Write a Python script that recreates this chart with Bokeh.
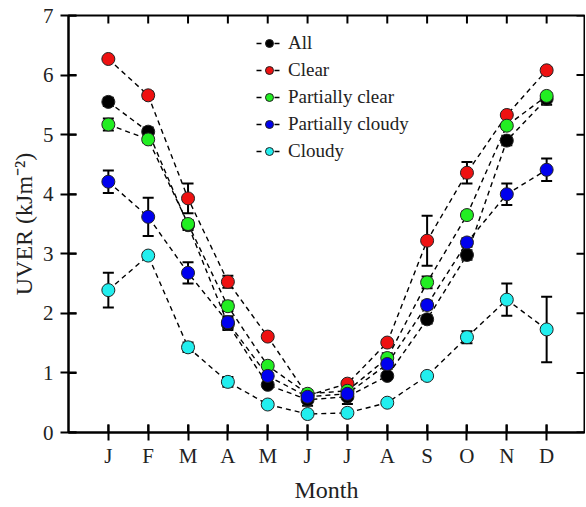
import math
from bokeh.plotting import figure
from bokeh.models import (Whisker, TeeHead, ColumnDataSource, FixedTicker,
                          Legend, LegendItem, Range1d)
from bokeh.embed import file_html
from bokeh.resources import INLINE

months = ["J", "F", "M", "A", "M", "J", "J", "A", "S", "O", "N", "D"]
month_idx = list(range(1, 13))
y_ticks = list(range(0, 8))

series_names = ["All", "Clear", "Partially clear", "Partially cloudy", "Cloudy"]
all_vals = [5.55, 5.05, 3.48, 1.82, 0.80, 0.55, 0.60, 0.95, 1.90, 2.98, 4.90, 5.60]
all_err = [0.07, 0.07, 0.08, 0.10, 0.05, 0.10, 0.12, 0.05, 0.07, 0.08, 0.08, 0.10]
clear_vals = [6.27, 5.66, 3.93, 2.53, 1.61, 0.62, 0.82, 1.51, 3.22, 4.36, 5.33, 6.08]
clear_err = [0.04, 0.06, 0.25, 0.10, 0.03, 0.05, 0.04, 0.04, 0.42, 0.18, 0.04, 0.05]
pclear_vals = [5.17, 4.92, 3.50, 2.12, 1.12, 0.65, 0.70, 1.25, 2.52, 3.65, 5.15, 5.65]
pclear_err = [0.10, 0.05, 0.06, 0.08, 0.06, 0.06, 0.06, 0.08, 0.10, 0.06, 0.05, 0.05]
pcloudy_vals = [4.21, 3.62, 2.68, 1.85, 0.95, 0.60, 0.65, 1.15, 2.14, 3.19, 4.00, 4.41]
pcloudy_err = [0.19, 0.32, 0.18, 0.10, 0.05, 0.06, 0.06, 0.08, 0.07, 0.07, 0.18, 0.19]
cloudy_vals = [2.39, 2.97, 1.43, 0.85, 0.47, 0.31, 0.33, 0.50, 0.95, 1.60, 2.23, 1.73]
cloudy_err = [0.29, 0.03, 0.08, 0.08, 0.04, 0.05, 0.05, 0.04, 0.05, 0.10, 0.27, 0.55]

colors = ["#000000", "#ee1111", "#22ee22", "#0000ee", "#22eeee"]
values = [all_vals, clear_vals, pclear_vals, pcloudy_vals, cloudy_vals]
errors = [all_err, clear_err, pclear_err, pcloudy_err, cloudy_err]

FONT = "Liberation Serif"
X_MIN, X_MAX, Y_MIN, Y_MAX = 0, 12.95, 0, 7

p = figure(width=585, height=505, x_range=Range1d(X_MIN, X_MAX), y_range=Range1d(Y_MIN, Y_MAX),
           output_backend="svg", toolbar_location=None,
           min_border_left=68, min_border_top=15, min_border_right=1, min_border_bottom=72)
p.grid.visible = False
p.outline_line_color = "black"
p.outline_line_width = 2

bottom = p.below[0]
left = p.left[0]
for ax in [bottom, left]:
    ax.axis_line_width = 2
    ax.axis_line_color = "black"
    ax.major_tick_line_width = 2
    ax.major_tick_line_color = "black"
    ax.major_tick_in = 8
    ax.major_tick_out = 8
    ax.minor_tick_line_color = None
    ax.major_label_text_font = FONT
    ax.major_label_text_font_size = "21px"
    ax.major_label_text_color = "#222222"
    ax.axis_label_text_font = FONT
    ax.axis_label_text_font_size = "24px"
    ax.axis_label_text_font_style = "normal"
    ax.axis_label_text_color = "#222222"

bottom.ticker = FixedTicker(ticks=month_idx)
bottom.major_label_overrides = {i: m for i, m in zip(month_idx, months)}
bottom.axis_label = "Month"
bottom.major_label_standoff = 3
bottom.axis_label_standoff = 6
left.ticker = FixedTicker(ticks=y_ticks)
left.axis_label = "UVER (kJm\u207b\u00b2)"
left.major_label_standoff = 7
left.axis_label_standoff = 3

# tick marks crossing each frame edge (dash markers centred on the edges)
p.scatter(x=month_idx, y=[Y_MAX] * len(month_idx), marker="dash", angle=math.pi / 2,
          size=16, line_color="black", line_width=2)
p.scatter(x=month_idx, y=[Y_MIN] * len(month_idx), marker="dash", angle=math.pi / 2,
          size=16, line_color="black", line_width=2)
p.scatter(x=[X_MAX] * len(y_ticks), y=y_ticks, marker="dash",
          size=16, line_color="black", line_width=2)
p.scatter(x=[X_MIN] * len(y_ticks), y=y_ticks, marker="dash",
          size=16, line_color="black", line_width=2)

items = []
line_renderers = []
for name, col, vals, errs in zip(series_names, colors, values, errors):
    src = ColumnDataSource(dict(x=month_idx, y=vals,
                                lo=[v - e for v, e in zip(vals, errs)],
                                hi=[v + e for v, e in zip(vals, errs)]))
    w = Whisker(base="x", upper="hi", lower="lo", source=src, line_color="black", line_width=2,
                upper_head=TeeHead(size=11, line_width=2, line_color="black"),
                lower_head=TeeHead(size=11, line_width=2, line_color="black"))
    p.add_layout(w)
    ln = p.line("x", "y", source=src, line_color="black", line_dash="5 4", line_width=1.4)
    line_renderers.append((name, col, src, ln))

for name, col, src, ln in line_renderers:
    sc = p.scatter("x", "y", source=src, size=13, fill_color=col, line_color="#222222", line_width=1)
    items.append(LegendItem(label=name, renderers=[ln, sc]))

legend = Legend(items=items, location=(188, 270), background_fill_alpha=0,
                border_line_color=None, label_text_font=FONT, label_text_font_size="19px",
                label_text_color="#222222", glyph_width=26, glyph_height=20,
                label_height=20, spacing=5, padding=4, margin=0, label_standoff=6)
p.add_layout(legend)

open("out.html", "w").write(file_html(p, INLINE))
